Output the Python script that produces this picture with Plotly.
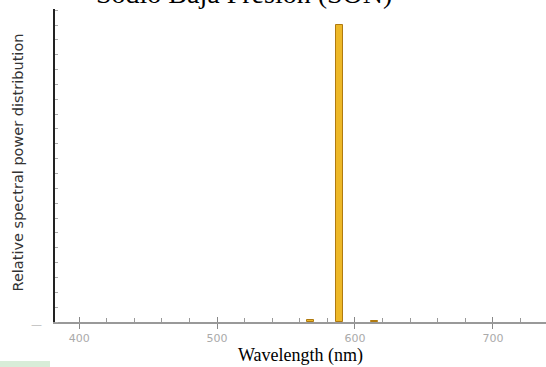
import plotly.graph_objects as go

# Data
wavelengths_nm = [568, 589, 614]
relative_power = [0.006, 1.0, 0.003]
bar_width_nm = 5
x_tick_values = [400, 500, 600, 700]
x_tick_labels = ["400", "500", "600", "700"]
title_text = "Sodio Baja Presion (SON)"
x_title = "Wavelength (nm)"
y_title = "Relative spectral power distribution"

W, H = 546, 367
ML, MR, MT, MB = 55, 0, 9, 45
PW, PH = W - ML - MR, H - MT - MB
X_RANGE = [382.5, 738.5]

def px_x(p):
    return (p - ML) / PW

def px_y(p):
    return (H - MB - p) / PH

fig = go.Figure()
fig.add_trace(go.Bar(
    x=wavelengths_nm, y=relative_power, width=bar_width_nm,
    marker=dict(color="#EDB828", line=dict(color="#B07A10", width=1)),
    showlegend=False,
))
# invisible trace to carry the overlay axis (inside half of the cross-shaped major ticks)
fig.add_trace(go.Scatter(x=[x_tick_values[0]], y=[0], xaxis="x2", mode="markers",
                         marker=dict(opacity=0), showlegend=False, hoverinfo="skip"))

fig.update_layout(
    width=W, height=H,
    margin=dict(l=ML, r=MR, t=MT, b=MB),
    paper_bgcolor="white", plot_bgcolor="white",
    xaxis=dict(
        range=X_RANGE, tickmode="array", tickvals=x_tick_values, ticktext=x_tick_labels,
        ticks="outside", ticklen=5, tickcolor="#888", tickwidth=1,
        minor=dict(dtick=20, tick0=400, ticks="inside", ticklen=4, tickcolor="#999", showgrid=False),
        showline=True, linecolor="#999", linewidth=1.5,
        showgrid=False, zeroline=False,
        tickfont=dict(family="DejaVu Sans", size=11, color="#aaa"),
    ),
    xaxis2=dict(
        range=X_RANGE, overlaying="x", anchor="y", side="bottom",
        tickmode="array", tickvals=x_tick_values, ticks="inside", ticklen=5,
        tickcolor="#888", tickwidth=1, showticklabels=False,
        showline=False, showgrid=False, zeroline=False,
    ),
    yaxis=dict(
        range=[0, 1.054], tickmode="array", tickvals=[], ticks="",
        minor=dict(dtick=0.05, tick0=0, ticks="inside", ticklen=3, tickcolor="#aaa", showgrid=False),
        showline=True, linecolor="#222", linewidth=1.5,
        showgrid=False, zeroline=False, showticklabels=False,
    ),
    bargap=0,
)

fig.add_annotation(text=title_text, xref="paper", yref="paper",
                   x=px_x(243.5), y=px_y(11), xanchor="center", yanchor="bottom",
                   showarrow=False, font=dict(family="Liberation Serif", size=28, color="black"))
fig.add_annotation(text=x_title, xref="paper", yref="paper",
                   x=0.5, y=px_y(355), xanchor="center", yanchor="middle",
                   showarrow=False, font=dict(family="Liberation Serif", size=18, color="black"))
fig.add_annotation(text=y_title, xref="paper", yref="paper",
                   x=px_x(17.5), y=px_y(163), xanchor="center", yanchor="middle", textangle=-90,
                   showarrow=False, font=dict(family="DejaVu Sans", size=14.5, color="#333"))
fig.add_annotation(text="—", xref="paper", yref="paper",
                   x=px_x(36), y=px_y(324), xanchor="center", yanchor="middle",
                   showarrow=False, font=dict(family="DejaVu Sans", size=11, color="#bbb"))
fig.add_shape(type="rect", xref="paper", yref="paper",
              x0=px_x(0), x1=px_x(50), y0=px_y(361), y1=px_y(367),
              fillcolor="#d8ecd8", line=dict(width=0), layer="above")

fig.write_html("out.html")
